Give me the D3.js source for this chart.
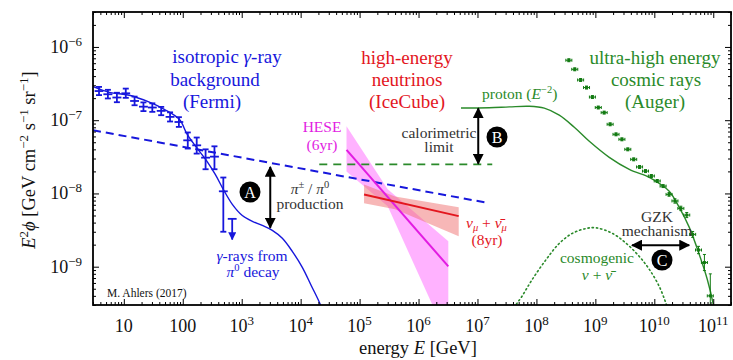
<!DOCTYPE html>
<html>
<head>
<meta charset="utf-8">
<script src="https://cdn.jsdelivr.net/npm/d3@7"></script>
<style>
  body { margin: 0; background: #fff; }
  svg { display: block; }
  text { font-family: "Liberation Serif", serif; }
</style>
</head>
<body>
<svg id="chart" width="733" height="360"></svg>
<script>
// Fermi isotropic gamma-ray background (E in GeV, E^2 phi in GeV cm^-2 s^-1 sr^-1)
const fermiEdges = [3.2, 4.5, 6.4, 9.1, 12.8, 18.1, 25.6, 36.2, 51.2, 72.4, 102, 145, 205, 290, 410, 580, 820];
const fermiFlux = [2.5e-7, 2.26e-7, 2.04e-7, 2.33e-7, 1.83e-7, 1.53e-7, 1.49e-7, 1.34e-7, 1.11e-7, 9.45e-8, 5.31e-8, 4.54e-8, 3.08e-8, 3.18e-8, 1.07e-8, 4.5e-9];
const fermiHi = [2.85e-7, 2.6e-7, 2.37e-7, 2.7e-7, 2.1e-7, 1.75e-7, 1.7e-7, 1.52e-7, 1.28e-7, 1.1e-7, 6.8e-8, 5.8e-8, 4.0e-8, 4.4e-8, 1.65e-8, 4.5e-9];
const fermiLo = [2.2e-7, 1.98e-7, 1.76e-7, 2.02e-7, 1.6e-7, 1.33e-7, 1.3e-7, 1.17e-7, 9.6e-8, 8.1e-8, 4.1e-8, 3.5e-8, 2.14e-8, 2.14e-8, 3.0e-9, 2.35e-9];
const fermiUpperLimit = [false, false, false, false, false, false, false, false, false, false, false, false, false, false, false, true];

// gamma-rays from pi0 decay (model)
const pionE = [2.92, 5.68, 12.4, 27.1, 48.6, 87.3, 119, 170, 251, 356, 486, 693, 1023, 1514, 2234, 3304, 4887, 7211, 10666, 15171, 21528, 28314];
const pionFlux = [2.9e-7, 2.4e-7, 2.19e-7, 1.76e-7, 1.41e-7, 1.03e-7, 6.4e-8, 4.27e-8, 2.83e-8, 1.82e-8, 1.14e-8, 7.1e-9, 5.0e-9, 4.16e-9, 3.66e-9, 3.13e-9, 2.44e-9, 1.62e-9, 9.8e-10, 5.5e-10, 3.05e-10, 1.6e-10];

// power-law guide lines
const gammaLimitE = [3, 1.4e7];
const gammaLimitFlux = [7.3e-8, 7.5e-9];
const caloLimitE = [2.07e4, 1.78e7];
const caloLimitFlux = [2.5e-8, 2.5e-8];

// IceCube HESE (6yr)
const heseE = [6e4, 3.2e6];
const heseFlux = [3.94e-8, 1.01e-9];
const heseBandE = [6e4, 3e5, 3.2e6];
const heseBandHi = [8.26e-8, 1.14e-8, 2.22e-9];
const heseBandLo = [2.0e-8, 6.67e-9, 1e-10];

// IceCube nu_mu + anti-nu_mu (8yr)
const numuE = [1.19e5, 4.8e6];
const numuFlux = [9.7e-9, 4.9e-9];
const numuBandE = [1.19e5, 4e5, 4.8e6];
const numuBandHi = [1.33e-8, 9.12e-9, 6.46e-9];
const numuBandLo = [7.33e-9, 6.07e-9, 2.6e-9];

// proton (E^-2) model and cosmogenic neutrinos
const protonE = [5.25e6, 1.58e7, 3.47e7, 7.57e7, 1.36e8, 2.44e8, 4.39e8, 7.89e8, 1.72e9, 3.76e9, 8.22e9, 1.21e10, 1.79e10, 2.65e10, 3.92e10, 5.79e10, 7.93e10, 1.0e11, 1.12e11];
const protonFlux = [1.47e-7, 1.48e-7, 1.52e-7, 1.55e-7, 1.46e-7, 1.17e-7, 8.0e-8, 5.15e-8, 3.11e-8, 2.13e-8, 1.66e-8, 1.37e-8, 1.07e-8, 6.46e-9, 3.44e-9, 1.47e-9, 6.7e-10, 3.05e-10, 1.6e-10];
const cosmoE = [4.0e7, 4.55e7, 5.53e7, 8.51e7, 1.47e8, 2.44e8, 4.06e8, 7.01e8, 1.04e9, 1.94e9, 3.34e9, 5.56e9, 8.22e9, 1.21e10, 1.6e10, 1.75e10];
const cosmoFlux = [2.4e-10, 3.05e-10, 3.81e-10, 6.71e-10, 1.26e-9, 2.08e-9, 2.85e-9, 3.33e-9, 3.39e-9, 2.85e-9, 2.08e-9, 1.38e-9, 9.2e-10, 5.4e-10, 3.05e-10, 2.4e-10];

// Auger spectrum
const augerE = [3.55e8, 4.47e8, 5.62e8, 7.08e8, 8.91e8, 1.12e9, 1.41e9, 1.78e9, 2.24e9, 2.82e9, 3.55e9, 4.47e9, 5.62e9, 7.08e9, 8.91e9, 1.12e10, 1.41e10, 1.78e10, 2.24e10, 2.82e10, 3.55e10, 4.47e10, 5.62e10, 7.08e10, 8.91e10];
const augerFlux = [6.58e-7, 4.95e-7, 3.54e-7, 2.79e-7, 2.07e-7, 1.49e-7, 1.27e-7, 8.79e-8, 6.41e-8, 5.48e-8, 4.0e-8, 2.92e-8, 2.30e-8, 2.02e-8, 1.73e-8, 1.48e-8, 1.26e-8, 9.7e-9, 7.9e-9, 6.25e-9, 5.07e-9, 2.76e-9, 1.69e-9, 1.14e-9, 4.0e-10];
const augerErrDex = [0.02, 0.02, 0.02, 0.02, 0.02, 0.02, 0.02, 0.02, 0.02, 0.02, 0.02, 0.02, 0.02, 0.02, 0.02, 0.02, 0.02, 0.025, 0.03, 0.03, 0.035, 0.04, 0.05, 0.11, 0.3];

// axis ticks
const xMajor = [10, 100, 1e3, 1e4, 1e5, 1e6, 1e7, 1e8, 1e9, 1e10, 1e11];
const xMajorLabels = [["10", ""], ["100", ""], ["10", "3"], ["10", "4"], ["10", "5"], ["10", "6"], ["10", "7"], ["10", "8"], ["10", "9"], ["10", "10"], ["10", "11"]];
const yMajor = [1e-9, 1e-8, 1e-7, 1e-6];
const yMajorLabels = [["10", "\u22129"], ["10", "\u22128"], ["10", "\u22127"], ["10", "\u22126"]];

const width = 733;
const height = 360;
const margin = { top: 12, right: 2, bottom: 55, left: 93 };

const blue = "#1717dc";
const red = "#e3161e";
const magenta = "#e21ce2";
const green = "#2a8a2a";
const darkGreen = "#127a12";
const grey = "#333333";

const x = d3.scaleLog().domain([3, 2e11]).range([margin.left, width - margin.right]);
const y = d3.scaleLog().domain([3e-10, 3e-6]).range([height - margin.bottom, margin.top]);

const svg = d3.select("#chart");

const defs = svg.append("defs");
defs.append("clipPath").attr("id", "plot-clip")
  .append("rect")
  .attr("x", margin.left).attr("y", margin.top)
  .attr("width", width - margin.left - margin.right)
  .attr("height", height - margin.top - margin.bottom);

function arrowMarker(id, color, size) {
  defs.append("marker")
    .attr("id", id)
    .attr("viewBox", "0 0 10 10")
    .attr("refX", 9).attr("refY", 5)
    .attr("markerWidth", size).attr("markerHeight", size)
    .attr("markerUnits", "userSpaceOnUse")
    .attr("orient", "auto-start-reverse")
    .append("path")
    .attr("d", "M0,0 L10,5 L0,10 z")
    .attr("fill", color);
}
arrowMarker("arrow-black", "#000", 11);
arrowMarker("arrow-blue", blue, 8);

const plot = svg.append("g").attr("clip-path", "url(#plot-clip)");

const zip = (a, b) => a.map((v, i) => [v, b[i]]);
const line = d3.line().x(d => x(d[0])).y(d => y(d[1]));
const smooth = d3.line().x(d => x(d[0])).y(d => y(d[1])).curve(d3.curveCatmullRom.alpha(0.5));

// bands
function band(E, hi, lo, fill, opacity) {
  const pts = zip(E, hi).concat(zip(E, lo).reverse());
  plot.append("path")
    .attr("d", line(pts) + "Z")
    .attr("fill", fill)
    .attr("fill-opacity", opacity)
    .attr("stroke", "none");
}
band(heseBandE, heseBandHi, heseBandLo, "#ff66ff", 0.5);
band(numuBandE, numuBandHi, numuBandLo, "#f07070", 0.5);

// guide lines
plot.append("path").attr("d", line(zip(gammaLimitE, gammaLimitFlux)))
  .attr("fill", "none").attr("stroke", blue).attr("stroke-width", 2).attr("stroke-dasharray", "8,5");
plot.append("path").attr("d", line(zip(caloLimitE, caloLimitFlux)))
  .attr("fill", "none").attr("stroke", green).attr("stroke-width", 1.8).attr("stroke-dasharray", "8,6");

// model curves
plot.append("path").attr("d", smooth(zip(pionE, pionFlux)))
  .attr("fill", "none").attr("stroke", blue).attr("stroke-width", 1.4);
plot.append("path").attr("d", smooth(zip(protonE, protonFlux)))
  .attr("fill", "none").attr("stroke", green).attr("stroke-width", 1.4);
plot.append("path").attr("d", smooth(zip(cosmoE, cosmoFlux)))
  .attr("fill", "none").attr("stroke", green).attr("stroke-width", 1.6)
  .attr("stroke-dasharray", "1.3,3").attr("stroke-linecap", "round");

// IceCube best fits
plot.append("path").attr("d", line(zip(heseE, heseFlux)))
  .attr("fill", "none").attr("stroke", magenta).attr("stroke-width", 2);
plot.append("path").attr("d", line(zip(numuE, numuFlux)))
  .attr("fill", "none").attr("stroke", red).attr("stroke-width", 2);

// Fermi data points
const fermi = fermiFlux.map((f, i) => ({
  lo: fermiEdges[i], hi: fermiEdges[i + 1],
  c: Math.sqrt(fermiEdges[i] * fermiEdges[i + 1]),
  f, fHi: fermiHi[i], fLo: fermiLo[i], ul: fermiUpperLimit[i]
}));
const fg = plot.append("g").attr("stroke", blue).attr("stroke-width", 1.8).attr("fill", "none");
fermi.forEach(d => {
  fg.append("line").attr("x1", x(d.lo)).attr("x2", x(d.hi)).attr("y1", y(d.f)).attr("y2", y(d.f));
  if (d.ul) {
    fg.append("line").attr("x1", x(d.c)).attr("x2", x(d.c)).attr("y1", y(d.f)).attr("y2", y(d.fLo))
      .attr("marker-end", "url(#arrow-blue)");
  } else {
    fg.append("line").attr("x1", x(d.c)).attr("x2", x(d.c)).attr("y1", y(d.fHi)).attr("y2", y(d.fLo));
    [d.fHi, d.fLo].forEach(v => {
      fg.append("line").attr("x1", x(d.c) - 3).attr("x2", x(d.c) + 3).attr("y1", y(v)).attr("y2", y(v));
    });
  }
});

// Auger data points
const ag = plot.append("g").attr("stroke", darkGreen).attr("stroke-width", 1);
augerE.forEach((e, i) => {
  const cx = x(e), cy = y(augerFlux[i]);
  const k = Math.pow(10, augerErrDex[i]);
  const yHi = y(augerFlux[i] * k), yLo = y(augerFlux[i] / k);
  ag.append("line").attr("x1", cx - 3).attr("x2", cx + 3).attr("y1", cy).attr("y2", cy);
  [cx - 3, cx + 3].forEach(xx => ag.append("line").attr("x1", xx).attr("x2", xx).attr("y1", cy - 1.5).attr("y2", cy + 1.5));
  ag.append("line").attr("x1", cx).attr("x2", cx).attr("y1", yHi).attr("y2", yLo);
  [yHi, yLo].forEach(yy => ag.append("line").attr("x1", cx - 1.5).attr("x2", cx + 1.5).attr("y1", yy).attr("y2", yy));
  ag.append("rect").attr("x", cx - 1.5).attr("y", cy - 1.5).attr("width", 3).attr("height", 3)
    .attr("fill", darkGreen).attr("stroke", "none");
});

// axes with inward ticks
const minor = [];
for (let p = 0; p <= 11; p++) {
  for (let m = 2; m <= 9; m++) minor.push(m * Math.pow(10, p));
}
const yMinor = [];
for (let p = -10; p <= -6; p++) {
  for (let m = 2; m <= 9; m++) yMinor.push(m * Math.pow(10, p));
}
const xMin = minor.filter(v => v >= 3 && v <= 2e11);
const yMin = yMinor.filter(v => v >= 3e-10 && v <= 3e-6);

function ticks(axis, values, size, transform) {
  svg.append("g")
    .attr("transform", transform)
    .call(axis.tickValues(values).tickSize(size).tickSizeOuter(0).tickFormat(""))
    .call(g => g.select(".domain").remove())
    .call(g => g.selectAll(".tick line").attr("stroke", "#000").attr("stroke-width", 1));
}
const bottomY = height - margin.bottom;
const rightX = width - margin.right;
ticks(d3.axisBottom(x), xMajor, -6, `translate(0,${bottomY})`);
ticks(d3.axisBottom(x), xMin, -3, `translate(0,${bottomY})`);
ticks(d3.axisTop(x), xMajor, -6, `translate(0,${margin.top})`);
ticks(d3.axisTop(x), xMin, -3, `translate(0,${margin.top})`);
ticks(d3.axisLeft(y), yMajor, -6, `translate(${margin.left},0)`);
ticks(d3.axisLeft(y), yMin, -3, `translate(${margin.left},0)`);
ticks(d3.axisRight(y), yMajor, -6, `translate(${rightX},0)`);
ticks(d3.axisRight(y), yMin, -3, `translate(${rightX},0)`);

svg.append("rect")
  .attr("x", margin.left).attr("y", margin.top)
  .attr("width", rightX - margin.left).attr("height", bottomY - margin.top)
  .attr("fill", "none").attr("stroke", "#000").attr("stroke-width", 1.8);

// tick labels
xMajor.forEach((v, i) => {
  const t = svg.append("text")
    .attr("x", x(v)).attr("y", bottomY + 27)
    .attr("text-anchor", "middle").attr("font-size", 18).attr("fill", "#111");
  t.append("tspan").text(xMajorLabels[i][0]);
  if (xMajorLabels[i][1]) {
    t.append("tspan").attr("dy", -7).attr("font-size", 13).text(xMajorLabels[i][1]);
  }
});
yMajor.forEach((v, i) => {
  const t = svg.append("text")
    .attr("x", 82).attr("y", y(v) + 6)
    .attr("text-anchor", "end").attr("font-size", 18).attr("fill", "#111");
  t.append("tspan").text(yMajorLabels[i][0]);
  t.append("tspan").attr("dy", -7).attr("font-size", 13).text(yMajorLabels[i][1]);
});

// axis titles
const xt = svg.append("text")
  .attr("x", 418).attr("y", 354)
  .attr("text-anchor", "middle").attr("font-size", 18.5).attr("fill", "#111");
xt.append("tspan").text("energy ");
xt.append("tspan").attr("font-style", "italic").text("E");
xt.append("tspan").text(" [GeV]");

const yt = svg.append("text")
  .attr("transform", "translate(35,160) rotate(-90)")
  .attr("text-anchor", "middle").attr("font-size", 18.5).attr("fill", "#111");
yt.append("tspan").attr("font-style", "italic").text("E");
yt.append("tspan").attr("dy", -7).attr("font-size", 13).text("2");
yt.append("tspan").attr("dy", 7).attr("font-style", "italic").text("\u03d5");
yt.append("tspan").text(" [GeV cm");
yt.append("tspan").attr("dy", -7).attr("font-size", 13).text("\u22122");
yt.append("tspan").attr("dy", 7).text(" s");
yt.append("tspan").attr("dy", -7).attr("font-size", 13).text("\u22121");
yt.append("tspan").attr("dy", 7).text(" sr");
yt.append("tspan").attr("dy", -7).attr("font-size", 13).text("\u22121");
yt.append("tspan").attr("dy", 7).text("]");

// annotations
function label(px, py, parts, opts) {
  const t = svg.append("text")
    .attr("x", px).attr("y", py)
    .attr("text-anchor", opts.anchor || "middle")
    .attr("font-size", opts.size)
    .attr("fill", opts.color);
  parts.forEach(p => {
    const s = typeof p === "string" ? { t: p } : p;
    const ts = t.append("tspan").text(s.t);
    if (s.i) ts.attr("font-style", "italic");
    if (s.dy) ts.attr("dy", s.dy);
    if (s.fs) ts.attr("font-size", s.fs);
  });
  return t;
}

const small = 15.5;
label(227, 63, ["isotropic ", { t: "\u03b3", i: true }, "-ray"], { size: 19, color: blue });
label(215, 86, ["background"], { size: 19, color: blue });
label(212, 108, ["(Fermi)"], { size: 19, color: blue });

label(407, 64, ["high-energy"], { size: 19, color: red });
label(407, 86, ["neutrinos"], { size: 19, color: red });
label(407, 108, ["(IceCube)"], { size: 19, color: red });

label(655, 64, ["ultra-high energy"], { size: 19, color: green });
label(656, 86, ["cosmic rays"], { size: 19, color: green });
label(655, 108, ["(Auger)"], { size: 19, color: green });

label(482, 99, ["proton (", { t: "E", i: true }, { t: "\u22122", dy: -6, fs: 10.5 }, { t: ")", dy: 6 }], { size: small, color: green, anchor: "start" });

label(322, 132, ["HESE"], { size: small, color: magenta });
label(322, 150, ["(6yr)"], { size: small, color: magenta });

label(439, 138, ["calorimetric"], { size: small, color: grey });
label(439, 152, ["limit"], { size: small, color: grey });

label(310, 194, [{ t: "\u03c0", i: true }, { t: "\u00b1", dy: -6, fs: 10.5 }, { t: " / ", dy: 6 }, { t: "\u03c0", i: true }, { t: "0", dy: -6, fs: 10.5 }], { size: small, color: grey });
label(310, 209, ["production"], { size: small, color: grey });

label(252, 261, [{ t: "\u03b3", i: true }, "-rays from"], { size: small, color: blue });
label(253, 277, [{ t: "\u03c0", i: true }, { t: "0", dy: -6, fs: 10.5 }, { t: " decay", dy: 6 }], { size: small, color: blue });

label(466, 228, [{ t: "\u03bd", i: true }, { t: "\u03bc", i: true, dy: 3, fs: 10.5 }, { t: " + ", dy: -3 }, { t: "\u03bd\u0304", i: true }, { t: "\u03bc", i: true, dy: 3, fs: 10.5 }], { size: small, color: red, anchor: "start" });
label(487, 245, ["(8yr)"], { size: small, color: red });

label(657, 222, ["GZK"], { size: small, color: grey });
label(657, 236, ["mechanism"], { size: small, color: grey });

label(597, 263, ["cosmogenic"], { size: small, color: green });
label(597, 280, [{ t: "\u03bd", i: true }, " + ", { t: "\u03bd\u0304", i: true }], { size: small, color: green });

label(107, 297, ["M. Ahlers (2017)"], { size: 11.5, color: "#111", anchor: "start" });

// double-headed arrows
function arrow(x1, y1, x2, y2) {
  svg.append("line")
    .attr("x1", x1).attr("y1", y1).attr("x2", x2).attr("y2", y2)
    .attr("stroke", "#000").attr("stroke-width", 2)
    .attr("marker-start", "url(#arrow-black)")
    .attr("marker-end", "url(#arrow-black)");
}
arrow(x(3.05e3), y(2.3e-8), x(3.05e3), y(3.4e-9));
arrow(x(1.03e7), y(1.45e-7), x(1.03e7), y(2.55e-8));
arrow(x(4.2e9), y(1.97e-9), x(3.9e10), y(1.97e-9));

// circled letters
function badge(px, py, letter) {
  svg.append("circle").attr("cx", px).attr("cy", py).attr("r", 10.5).attr("fill", "#000");
  svg.append("text").attr("x", px).attr("y", py + 5.5)
    .attr("text-anchor", "middle").attr("font-size", 16).attr("fill", "#fff").text(letter);
}
badge(250, 192, "A");
badge(497, 137, "B");
badge(662, 260, "C");
</script>
</body>
</html>
